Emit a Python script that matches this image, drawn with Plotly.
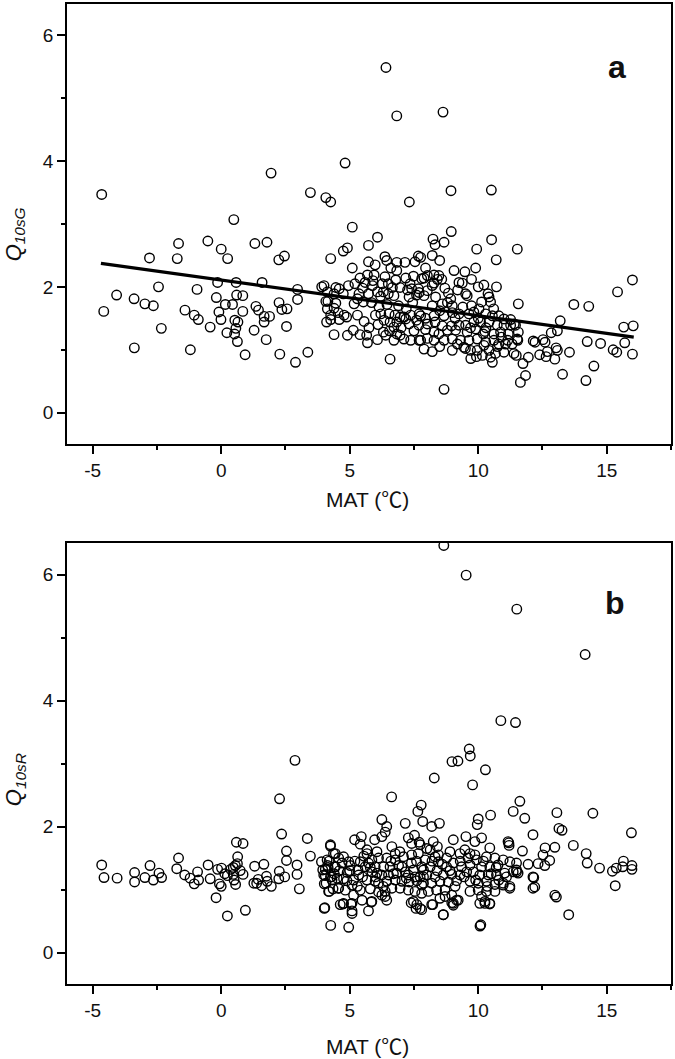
import plotly.graph_objects as go

# ---------------- data ----------------
# Panel a: MAT (°C) vs Q10sG
points_a = [
    (-4.65,3.47),(0.49,3.07),(1.94,3.81),(3.47,3.50),(4.07,3.42),(4.26,3.35),(4.82,3.97),
    (6.41,5.49),(6.83,4.72),(8.63,4.78),(7.32,3.35),(8.94,3.53),(10.51,3.54),
    (-1.66,2.69),(-0.52,2.73),(0.0,2.60),(0.25,2.45),(1.31,2.69),(1.78,2.71),(-2.79,2.46),
    (-1.71,2.45),(2.24,2.43),(2.46,2.49),(-2.44,2.00),(-4.07,1.87),(-4.57,1.61),(-3.39,1.81),
    (-2.97,1.73),(-2.64,1.70),(-3.38,1.03),(-2.33,1.34),(-1.41,1.63),(-1.05,1.55),(-0.89,1.48),
    (-1.20,1.00),(-0.94,1.96),(-0.43,1.36),(-0.14,2.07),(-0.19,1.83),(-0.09,1.60),(-0.01,1.48),
    (0.16,1.72),(0.44,1.72),(0.22,1.27),(0.52,1.25),(0.57,1.34),(0.53,1.47),(0.65,1.44),
    (0.63,1.13),(0.58,2.07),(0.60,1.87),(0.84,1.86),(0.84,1.61),(0.93,0.92),(1.28,1.31),
    (1.35,1.69),(1.45,1.63),(1.67,1.44),(1.67,1.53),(1.88,1.53),(1.59,2.07),(1.75,1.16),
    (2.25,1.75),(2.36,1.64),(2.56,1.65),(2.54,1.37),(2.28,0.93),(2.89,0.80),(3.37,0.96),
    (2.97,1.96),(2.97,1.80),(3.91,2.00),
    (4.26,2.45),(4.75,2.57),(4.91,2.62),(5.10,2.95),(5.73,2.66),(6.08,2.79),(5.10,2.30),
    (5.73,2.40),(5.99,2.35),(6.37,2.48),(6.44,2.42),(6.83,2.39),(7.15,2.39),(7.54,2.40),(7.67,2.49),
    (5.40,2.14),(5.69,2.19),(5.95,2.19),(6.37,2.16),(6.79,2.11),(7.18,2.14),(7.48,2.17),(7.80,2.13),(6.83,2.26),
    (5.60,2.07),(5.88,2.02),(6.27,2.05),(6.50,2.05),(6.66,1.99),(6.96,1.99),(7.35,2.05),(7.41,1.97),(7.67,1.97),
    (4.00,2.02),(4.46,1.99),(4.59,1.97),(4.95,2.02),
    (4.13,1.92),(4.39,1.89),(4.75,1.89),(5.36,1.89),(5.73,1.89),(6.08,1.92),(6.31,1.92),(6.50,1.89),
    (6.72,1.86),(7.31,1.84),(7.60,1.87),
    (4.07,1.77),(4.46,1.74),(5.17,1.73),(5.53,1.76),(5.30,1.81),(4.15,1.77),
    (6.14,1.68),(6.53,1.57),(6.76,1.55),(7.11,1.52),(7.37,1.55),(7.76,1.54),
    (4.26,1.55),(4.55,1.59),(4.78,1.55),(4.13,1.65),(4.39,1.66),
    (4.26,1.48),(4.59,1.48),(4.88,1.52),(4.10,1.44),
    (6.21,1.57),(6.34,1.47),(6.57,1.44),(6.83,1.44),(6.96,1.52),(7.18,1.49),(7.31,1.41),(7.60,1.47),(7.69,1.39),
    (5.56,1.45),
    (4.39,1.24),(4.91,1.23),(5.14,1.31),(5.40,1.24),(5.66,1.23),(5.69,1.11),(6.08,1.16),(6.31,1.28),
    (6.40,1.23),(6.72,1.36),(6.83,1.25),(6.96,1.23),(7.11,1.17),(7.37,1.15),(7.76,1.15),(6.72,1.15),
    (6.57,0.85),
    (5.20,2.05),(5.50,1.98),(5.85,1.75),(6.00,1.55),(6.20,1.85),(6.45,1.72),(6.90,1.70),(7.20,1.65),
    (7.45,1.75),(5.30,1.55),(5.75,1.35),(6.10,1.40),(6.55,1.30),(7.00,1.35),(7.50,1.30),(7.25,1.95),
    (6.60,2.30),(5.90,2.10),
    (8.95,2.88),(8.24,2.76),(8.32,2.67),(8.67,2.71),(8.21,2.50),(8.50,2.42),(7.76,2.47),(9.94,2.60),
    (10.52,2.75),(11.52,2.60),(10.70,2.43),
    (7.95,2.30),(8.02,2.18),(8.28,2.19),(8.47,2.18),(8.28,2.06),(8.41,2.12),(8.58,2.12),(7.89,2.14),(8.21,2.02),
    (9.06,2.26),(9.48,2.24),(9.90,2.30),(9.25,2.07),(9.38,2.06),(9.74,2.12),(10.0,2.00),(10.22,2.03),
    (10.71,2.00),(9.51,1.89),(9.57,1.86),(10.38,1.89),
    (7.70,1.91),(7.89,1.86),(8.02,1.94),(8.34,1.84),(8.84,1.90),(8.93,1.81),(8.60,1.73),(8.21,1.70),
    (8.99,1.70),(9.74,1.70),(10.13,1.76),(10.48,1.76),(10.42,1.84),(10.03,1.65),(11.56,1.73),(10.80,1.54),
    (7.70,1.57),(7.95,1.50),(8.28,1.54),(8.67,1.54),(8.99,1.59),(9.25,1.57),(9.64,1.57),(9.83,1.60),
    (10.29,1.57),(10.55,1.54),(11.0,1.49),(11.26,1.48),(11.45,1.39),
    (8.02,1.41),(8.32,1.44),(8.60,1.38),(8.96,1.38),(9.25,1.39),(9.51,1.39),(9.83,1.44),(10.09,1.44),
    (10.42,1.44),(10.74,1.39),(11.0,1.39),(11.26,1.39),(11.56,1.28),
    (7.95,1.32),(8.28,1.28),(8.47,1.25),(8.80,1.31),(9.12,1.31),(9.57,1.28),(9.90,1.33),(10.26,1.29),
    (10.61,1.25),(10.87,1.28),(11.17,1.25),(11.52,1.17),
    (7.70,1.15),(8.02,1.18),(8.28,1.15),(8.67,1.15),(8.99,1.17),(9.31,1.15),(9.64,1.15),(9.96,1.17),
    (10.29,1.12),(10.61,1.15),(10.80,1.09),(11.06,1.09),(11.32,1.09),
    (7.89,1.01),(8.21,0.97),(8.99,0.99),(9.19,1.09),(9.44,1.04),(9.70,0.99),(9.96,0.99),(10.22,1.07),
    (10.42,0.99),(10.67,0.94),(11.0,0.96),(11.39,0.94),(10.16,0.91),(10.48,0.88),
    (8.50,1.62),(8.80,1.75),(9.10,1.50),(9.40,1.68),(9.70,1.35),(10.00,1.50),(10.30,1.35),(10.60,1.65),
    (9.20,1.95),(8.70,1.98),(10.90,1.20),(9.50,1.02),(8.50,1.05),(10.20,1.25),(10.75,1.05),(11.15,1.15),
    (8.67,0.37),(10.55,0.80),(9.93,0.89),(9.71,0.86),
    (11.48,0.91),(11.54,1.15),(11.40,1.41),(11.74,0.78),(11.84,0.59),(11.64,0.48),(11.95,0.88),
    (12.64,0.89),(12.60,1.12),(12.52,1.16),(12.21,1.12),(12.14,1.14),(12.39,0.92),(12.69,0.97),
    (13.19,1.46),(13.08,1.30),(12.84,1.27),(13.03,1.03),(12.98,0.85),(13.08,0.99),
    (13.55,0.96),(13.28,0.61),(13.72,1.72),(14.30,1.69),(14.24,1.13),(14.76,1.10),(14.50,0.74),(14.19,0.51),
    (15.42,1.92),(16.00,2.11),(15.66,1.36),(16.03,1.38),(15.70,1.11),(15.25,1.00),(15.39,0.96),(16.00,0.93),
]
mat_a = [p[0] for p in points_a]
q10sg = [p[1] for p in points_a]

# fitted line endpoints for panel a
fit_mat = [-4.68, 16.05]
fit_q10sg = [2.375, 1.20]

# Panel b: MAT (°C) vs Q10sR
points_b = [
    (8.66,6.46),(9.53,5.99),(11.50,5.45),(14.16,4.73),(10.88,3.68),(11.45,3.65),(9.65,3.23),(9.69,3.12),
    (8.98,3.03),(9.21,3.04),(10.28,2.90),(2.87,3.05),(8.29,2.77),(9.78,2.66),(6.63,2.47),(2.27,2.44),
    (2.35,1.88),(3.35,1.81),(3.47,1.53),(2.54,1.61),(2.54,1.46),(2.95,1.39),(2.95,1.24),(3.04,1.01),
    (2.26,1.29),(2.24,1.17),(2.47,1.20),
    (-4.65,1.39),(-4.56,1.19),(-4.05,1.18),(-3.37,1.27),(-3.37,1.12),(-2.97,1.19),(-2.77,1.38),(-2.64,1.15),
    (-2.42,1.26),(-2.32,1.19),(-1.66,1.50),(-1.73,1.33),(-1.42,1.23),(-1.21,1.18),(-1.05,1.09),(-0.92,1.28),
    (-0.88,1.15),(-0.51,1.39),(-0.43,1.17),(-0.20,0.87),(-0.14,1.32),(0.01,1.34),(-0.07,1.09),(0.0,1.05),
    (0.14,1.25),(0.24,1.22),(0.24,0.58),
    (0.37,1.32),(0.47,1.35),(0.55,1.38),(0.63,1.41),(0.64,1.52),(0.59,1.75),(0.85,1.73),(0.47,1.24),
    (0.50,1.15),(0.56,1.08),(0.74,1.30),(0.85,1.24),(0.94,0.67),
    (1.30,1.37),(1.66,1.40),(1.27,1.10),(1.38,1.10),(1.44,1.16),(1.57,1.06),(1.76,1.21),(1.95,1.05),(1.79,1.13),
    (3.90,1.44),(4.05,1.32),(4.14,1.38),(4.05,1.22),(4.01,1.09),(4.20,0.97),(4.29,1.20),(4.35,1.01),
    (4.01,0.70),(4.26,0.43),(4.25,1.69),(4.37,1.57),(4.41,1.36),(4.56,1.02),(4.63,0.76),
    (7.78,2.34),(7.65,2.24),(6.25,2.11),(6.44,2.00),(6.38,1.91),(6.25,1.84),(7.16,2.05),
    (7.28,1.82),(7.52,1.86),(7.41,1.73),(7.70,1.75),
    (5.19,1.79),(5.45,1.84),(5.41,1.72),(5.97,1.79),
    (4.25,1.71),(4.44,1.57),(4.12,1.47),(4.57,1.50),(4.76,1.52),(4.96,1.44),(5.02,1.38),(4.70,1.42),
    (4.44,1.36),(4.16,1.35),(3.95,1.31),(4.25,1.20),(3.99,1.23),(4.08,1.10),(4.31,1.15),(4.51,1.18),
    (4.76,1.17),(4.89,1.14),(5.15,1.15),(5.35,1.23),(5.67,1.15),(5.99,1.13),(5.80,1.01),(5.41,0.99),
    (5.09,1.07),(4.57,1.02),(4.18,0.97),(4.83,0.99),(5.15,0.91),(5.09,0.78),(4.76,0.78),(5.09,0.66),
    (4.03,0.71),(5.73,0.66),(5.84,0.80),(6.12,0.96),(6.38,0.97),(6.44,0.83),(6.25,0.91),(5.67,1.63),
    (5.67,1.57),(6.06,1.60),(5.73,1.42),(5.99,1.36),(6.32,1.36),(6.57,1.36),(6.77,1.47),(7.09,1.52),
    (7.41,1.55),(7.67,1.57),(6.06,1.26),(6.25,1.23),(6.51,1.23),(6.83,1.26),(7.16,1.28),(7.48,1.31),
    (7.80,1.36),(5.86,1.28),(5.60,1.36),(5.32,1.31),(5.41,1.44),(5.86,1.47),(6.12,1.50),(6.44,1.50),
    (6.77,1.57),(6.64,1.68),(7.03,1.36),(7.28,1.23),(7.54,1.20),(7.87,1.20),(6.77,1.15),(7.03,1.13),
    (7.31,1.12),(7.61,1.14),(7.80,1.07),(6.64,1.02),(6.96,1.02),(7.28,0.99),(7.54,0.97),(7.80,0.94),
    (6.44,1.13),(6.12,1.10),(5.48,0.83),(7.61,0.76),(7.48,0.81),(7.80,0.68),
    (4.60,1.30),(4.90,1.27),(5.20,1.45),(5.50,1.20),(5.30,1.05),(6.00,1.20),(6.30,1.05),(6.60,1.45),
    (6.90,1.38),(7.20,1.18),(7.40,1.42),(6.70,1.25),(5.80,1.35),(5.55,1.53),(6.95,1.60),(7.60,1.45),
    (5.00,1.30),(4.40,1.25),(4.20,1.45),
    (4.96,0.40),(5.09,0.62),(5.05,0.77),(4.74,0.77),(5.86,0.81),(7.58,0.70),(7.74,0.70),(7.39,0.79),
    (8.64,0.60),(8.97,0.79),(9.16,0.83),(9.03,0.75),(8.23,0.76),(10.45,0.77),(10.26,0.78),(10.07,0.42),
    (10.10,0.44),(6.38,0.89),
    (8.19,2.00),(8.49,2.05),(7.84,2.08),
    (10.00,2.12),(9.96,2.03),(10.48,2.18),(11.36,2.24),(11.62,2.40),(11.81,2.13),(12.13,1.87),
    (9.03,1.79),(9.52,1.84),(9.87,1.76),(10.13,1.82),(10.45,1.66),(11.16,1.76),(11.20,1.70),(11.72,1.61),
    (11.94,1.40),(12.13,1.20),
    (7.74,1.71),(8.00,1.65),(8.25,1.76),(8.41,1.68),(8.13,1.63),(8.32,1.52),(7.93,1.47),(8.45,1.44),
    (8.77,1.50),(8.90,1.60),(9.29,1.57),(9.48,1.63),(9.68,1.57),(9.87,1.55),(9.93,1.47),(10.32,1.52),
    (10.65,1.50),(10.97,1.47),(11.23,1.44),(11.49,1.42),(10.77,1.39),(10.45,1.36),(10.13,1.36),(9.68,1.39),
    (9.35,1.36),(9.03,1.42),(8.77,1.36),(8.13,1.36),(7.87,1.31),(7.74,1.20),(8.00,1.23),(8.32,1.20),
    (8.64,1.23),(8.97,1.24),(9.29,1.23),(9.55,1.28),(9.81,1.28),(10.06,1.23),(10.39,1.23),(10.71,1.23),
    (11.03,1.26),(11.36,1.28),(11.55,1.26),(7.87,1.10),(8.19,1.10),(8.51,1.13),(8.84,1.12),(9.16,1.14),
    (9.68,1.13),(10.00,1.10),(10.32,1.13),(10.65,1.08),(10.97,1.10),(11.23,1.05),(8.06,0.97),(8.38,0.99),
    (8.71,0.99),(9.68,0.97),(10.00,0.99),(10.32,0.97),(10.65,0.97),(8.51,0.86),(8.71,0.89),(8.97,0.91),
    (9.22,0.83),(9.03,0.78),(10.13,0.89),(10.26,0.81),(10.45,0.78),(10.06,0.78),(8.19,0.76),(8.64,0.60),
    (8.40,1.30),(8.60,1.40),(8.90,1.30),(9.10,1.05),(9.45,1.20),(9.90,1.15),(10.20,1.45),(10.50,1.25),
    (10.80,1.15),(9.30,1.45),(9.60,1.50),(8.20,1.45),(10.35,1.05),(10.70,1.35),(11.10,1.20),(8.45,1.55),
    (12.13,1.02),(11.23,1.02),(10.97,1.07),
    (13.06,2.22),(14.46,2.21),(13.14,1.97),(13.26,1.94),(15.96,1.90),(13.70,1.70),(14.20,1.57),(14.24,1.42),
    (14.72,1.34),(15.22,1.29),(15.37,1.34),(15.65,1.45),(15.62,1.36),(15.98,1.38),(15.98,1.32),(15.33,1.06),
    (13.52,0.60),(12.98,0.91),(13.04,0.88),(12.16,1.19),(12.20,1.04),(12.33,1.41),(12.59,1.38),(12.52,1.55),
    (12.60,1.66),(12.98,1.67),(12.78,1.46),(11.19,1.74),(11.49,1.31),(11.49,1.28),
]
mat_b = [p[0] for p in points_b]
q10sr = [p[1] for p in points_b]

x_tickvals = [-5, 0, 5, 10, 15]
x_ticktext = ["-5", "0", "5", "10", "15"]
y_tickvals = [0, 2, 4, 6]
y_ticktext = ["0", "2", "4", "6"]

# ---------------- figure ----------------
FONT = "Liberation Sans, Arial, Helvetica, sans-serif"
marker_style = dict(symbol="circle-open", size=9.5, color="black", line=dict(width=1.4, color="black"))

fig = go.Figure()
fig.add_trace(go.Scatter(x=mat_a, y=q10sg, mode="markers", marker=marker_style,
                         xaxis="x", yaxis="y", showlegend=False))
fig.add_trace(go.Scatter(x=fit_mat, y=fit_q10sg, mode="lines", line=dict(color="black", width=3.2),
                         xaxis="x", yaxis="y", showlegend=False))
fig.add_trace(go.Scatter(x=mat_b, y=q10sr, mode="markers", marker=marker_style,
                         xaxis="x2", yaxis="y2", showlegend=False))

def xax(anchor):
    return dict(anchor=anchor, domain=[0, 1], range=[-6, 17.5], tickmode="array",
                tickvals=x_tickvals, ticktext=x_ticktext, ticks="outside", ticklen=8, tickwidth=1.5,
                tickcolor="black", showline=True, linecolor="black", linewidth=1.6, mirror=True,
                showgrid=False, zeroline=False, tickfont=dict(family=FONT, size=19, color="#111"),
                minor=dict(tickmode="linear", tick0=-5, dtick=2.5, ticks="outside", ticklen=4,
                           tickwidth=1.5, tickcolor="black", showgrid=False))

def yax(anchor, domain):
    return dict(anchor=anchor, domain=domain, range=[-0.5, 6.5], tickmode="array",
                tickvals=y_tickvals, ticktext=y_ticktext, ticks="outside", ticklen=8, tickwidth=1.5,
                tickcolor="black", showline=True, linecolor="black", linewidth=1.6, mirror=True,
                showgrid=False, zeroline=False, tickfont=dict(family=FONT, size=19, color="#111"),
                minor=dict(tickmode="linear", tick0=0, dtick=1, ticks="outside", ticklen=4,
                           tickwidth=1.5, tickcolor="black", showgrid=False))

fig.update_layout(
    width=675, height=1059,
    margin=dict(l=67, r=4, t=2, b=75),
    paper_bgcolor="white", plot_bgcolor="white",
    xaxis=xax("y"), yaxis=yax("x", [0.551, 1.0]),
    xaxis2=xax("y2"), yaxis2=yax("x2", [0.0, 0.450]),
    font=dict(family=FONT, color="#111"),
)

mat_title = "MAT (<span style=\"font-family:'Noto Sans CJK SC'\">℃</span>)"
ann = [
    dict(text=mat_title, x=0.498, y=0.496, size=21),
    dict(text=mat_title, x=0.498, y=-0.062, size=21),
    dict(text="<i>Q</i><sub><i>10sG</i></sub>", x=-0.086, y=0.765, size=22, angle=-90),
    dict(text="<i>Q</i><sub><i>10sR</i></sub>", x=-0.086, y=0.208, size=22, angle=-90),
    dict(text="<b>a</b>", x=0.911, y=0.936, size=32),
    dict(text="<b>b</b>", x=0.907, y=0.3885, size=32),
]
for a in ann:
    fig.add_annotation(xref="paper", yref="paper", showarrow=False, xanchor="center",
                       yanchor="middle", text=a["text"], x=a["x"], y=a["y"],
                       textangle=a.get("angle", 0),
                       font=dict(family=FONT, size=a["size"], color="#111"))

fig.write_html("out.html", config={"displayModeBar": False},
               post_script="document.body.style.margin='0';")
